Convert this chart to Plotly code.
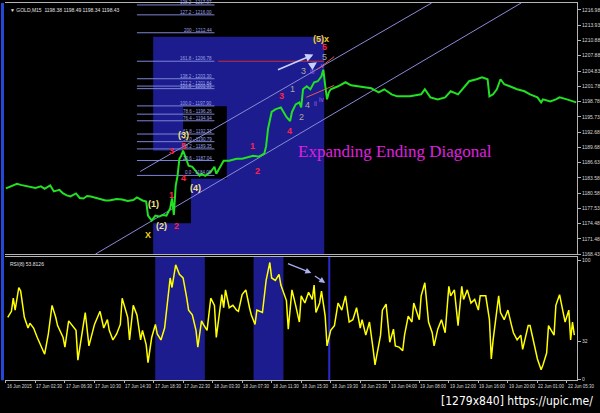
import plotly.graph_objects as go

# ---------------- data ----------------
PRICE_BAR = [0, 3, 6, 8, 11, 13, 16, 19, 21, 24,
             26, 29, 31, 33, 35, 38, 40, 42, 44, 46,
             49, 51, 54, 56, 60, 63, 66, 69, 71, 74,
             76, 77, 79, 81, 83, 85, 87, 89, 90, 91,
             92, 93, 94, 95, 96, 97, 99, 101, 103, 105,
             106, 108, 111, 113, 114, 117, 118, 121, 125, 128,
             132, 134, 137, 140, 141, 142, 144, 146, 149, 150,
             152, 154, 155, 157, 159, 160, 161, 163, 165, 167,
             169, 171, 172, 173, 174, 175, 176, 180, 184, 187,
             191, 195, 198, 202, 205, 209, 212, 216, 219, 225,
             227, 230, 234, 238, 241, 245, 248, 251, 255, 258,
             261, 262, 264, 266, 268, 270, 273, 277, 281, 284,
             288, 290, 291, 295, 298, 300, 304, 307, 309]
PRICE = [1181.5, 1181.9, 1182.4, 1182.2, 1182.0, 1181.8, 1181.6, 1181.9, 1181.4, 1182.1,
         1180.9, 1181.2, 1180.5, 1180.1, 1179.9, 1180.5, 1179.6, 1179.5, 1180.0, 1179.9,
         1179.6, 1179.5, 1179.1, 1179.1, 1179.4, 1179.3, 1179.0, 1179.2, 1179.7, 1179.1,
         1178.9, 1176.1, 1175.1, 1176.1, 1175.9, 1176.2, 1176.1, 1177.5, 1179.5, 1176.2,
         1182.0, 1184.0, 1187.4, 1188.0, 1189.0, 1188.0, 1186.0, 1185.8, 1184.8, 1184.0,
         1184.4, 1184.0, 1184.8, 1185.8, 1184.4, 1186.4, 1187.0, 1187.0, 1187.4, 1187.4,
         1187.8, 1188.0, 1187.8, 1188.4, 1189.9, 1193.3, 1196.7, 1197.2, 1197.6, 1196.9,
         1195.7, 1194.9, 1196.7, 1198.2, 1198.6, 1197.6, 1201.2, 1201.8, 1201.2, 1202.6,
         1202.8, 1203.8, 1205.1, 1202.0, 1199.2, 1200.6, 1201.2, 1201.8, 1202.6, 1202.0,
         1201.8, 1201.6, 1201.4, 1200.6, 1201.2, 1200.2, 1199.8, 1199.8, 1199.8, 1200.2,
         1201.2, 1199.6, 1199.2, 1199.6, 1200.8, 1200.2, 1201.6, 1202.8, 1203.2, 1203.6,
         1203.2, 1199.8, 1200.2, 1201.2, 1203.2, 1202.2, 1201.8, 1201.2, 1200.8, 1200.2,
         1199.6, 1198.6, 1199.2, 1198.8, 1199.2, 1199.6, 1199.2, 1198.8, 1198.6]

RSI_BAR = [1, 3, 4, 5, 7, 8, 10, 12, 13, 15,
           17, 20, 21, 23, 25, 27, 28, 31, 32, 34,
           36, 38, 39, 41, 43, 45, 47, 48, 51, 53,
           55, 56, 58, 60, 62, 63, 66, 67, 69, 71,
           73, 74, 76, 77, 79, 81, 82, 84, 86, 88,
           89, 90, 92, 94, 96, 98, 99, 101, 103, 104,
           106, 107, 109, 111, 113, 114, 117, 118, 119, 121,
           123, 125, 126, 128, 130, 132, 133, 135, 136, 139,
           141, 143, 144, 146, 148, 149, 152, 153, 155, 157,
           159, 160, 162, 164, 166, 167, 168, 170, 171, 173,
           174, 176, 178, 180, 182, 184, 186, 188, 190, 192,
           193, 195, 197, 199, 200, 203, 204, 206, 208, 210,
           211, 213, 215, 216, 218, 220, 221, 224, 225, 227,
           229, 231, 232, 234, 236, 238, 240, 241, 243, 245,
           247, 248, 250, 252, 254, 256, 257, 260, 262, 263,
           264, 267, 268, 270, 272, 274, 275, 277, 279, 280,
           283, 284, 286, 288, 290, 291, 293, 294, 297, 298,
           300, 301, 303, 305, 306, 307, 308]
RSI = [52, 57, 68, 58, 77, 74, 52, 43, 47, 43,
       35, 24, 21, 38, 62, 52, 45, 35, 27, 49,
       45, 41, 16, 38, 56, 28, 41, 46, 57, 43,
       50, 41, 33, 38, 46, 68, 52, 33, 62, 54,
       33, 41, 29, 14, 35, 46, 38, 33, 43, 71,
       85, 77, 96, 88, 85, 68, 58, 54, 41, 27,
       49, 46, 41, 68, 62, 35, 71, 60, 75, 60,
       62, 58, 57, 71, 75, 60, 54, 46, 58, 56,
       83, 98, 85, 83, 88, 79, 66, 42, 75, 62,
       48, 70, 64, 73, 67, 79, 56, 64, 74, 53,
       28, 41, 45, 64, 58, 70, 48, 50, 60, 43,
       50, 37, 48, 25, 12, 37, 58, 63, 31, 42,
       28, 27, 24, 37, 53, 48, 64, 50, 70, 81,
       48, 39, 28, 42, 50, 39, 78, 70, 75, 45,
       78, 67, 75, 64, 67, 58, 70, 70, 50, 17,
       33, 70, 56, 50, 58, 45, 39, 33, 37, 25,
       45, 45, 31, 17, 8, 12, 22, 45, 37, 62,
       71, 64, 48, 58, 33, 48, 37]

PRICE_TICKS = [1216.98, 1213.93, 1210.88, 1207.88, 1204.83, 1201.78, 1198.78, 1195.73,
               1192.68, 1189.68, 1186.63, 1183.58, 1180.58, 1177.53, 1174.48, 1171.48, 1168.43]
RSI_TICKS = [0, 32, 100]

TIME_BARS = [0, 16, 32, 48, 64, 80, 96, 112, 128, 144, 160, 176, 192, 208, 224, 240, 256, 272, 288, 304]
TIME_LABELS = ["16 Jun 2015", "17 Jun 02:30", "17 Jun 06:30", "17 Jun 10:30", "17 Jun 14:30",
               "17 Jun 18:30", "17 Jun 22:30", "18 Jun 03:30", "18 Jun 07:30", "18 Jun 11:30",
               "18 Jun 15:30", "18 Jun 19:30", "18 Jun 23:30", "19 Jun 04:00", "19 Jun 08:00",
               "19 Jun 12:00", "19 Jun 16:00", "19 Jun 20:00", "22 Jun 01:00", "22 Jun 05:30"]

FIB_RATIO = ["138.2", "127.2", "200", "161.8", "138.2", "127.2", "123.6", "100.0",
             "78.6", "76.4", "61.8", "50.0", "38.2", "23.6", "0.0"]
FIB_PRICE = [1217.97, 1216.00, 1212.44, 1206.78, 1203.30, 1201.84, 1201.33, 1197.90,
             1196.26, 1194.94, 1192.31, 1190.79, 1189.35, 1187.04, 1184.08]
FIB_BAR_RANGE = [71, 113]
FIB_RED_BAR_RANGE = [115, 172.5]

# channel (expanding diagonal boundaries)
LOWER_LINE_BAR = [48.5, 279.2]
LOWER_LINE_PRICE = [1168.43, 1218.36]
UPPER_LINE_BAR = [72.8, 230.7]
UPPER_LINE_PRICE = [1184.87, 1218.36]
SMALL_LINES = [([162.8, 177.9], [1199.61, 1201.98]), ([168.7, 177.9], [1205.14, 1207.70])]

# highlighted zones (bar ranges / price ranges)
ZONE_MAIN = dict(bars=[79.8, 172.5], prices=[1168.43, 1211.65])
ZONE_BLACK = [dict(bars=[79.2, 100.3], prices=[1174.55, 1188.96]),
              dict(bars=[96.0, 119.7], prices=[1183.43, 1197.84])]
RSI_ZONES = [[80.9, 107.8], [134.2, 150.4]]
RSI_VLINE_BAR = 175.2

# wave labels (text, bar, price)
PRIMARY_WAVES = [("(1)", 79.8, 1178.3), ("(2)", 84.1, 1173.96), ("(3)", 96.0, 1192.11),
                 ("(4)", 103.0, 1181.65)]
X_LABELS = [("X", 77.1, 1172.18), ("(5)x", 170.9, 1211.26)]
RED_WAVES = [("1", 89.5, 1180.27), ("2", 92.2, 1173.96), ("3", 90.0, 1188.96), ("4", 96.0, 1183.63),
             ("5", 96.5, 1189.94), ("1", 133.7, 1189.94), ("2", 136.4, 1185.01), ("3", 149.3, 1199.81),
             ("4", 153.6, 1192.90), ("5", 172.5, 1209.68)]
GRAY_WAVES = [("1", 155.3, 1201.19), ("2", 160.1, 1195.67), ("3", 161.2, 1204.74),
              ("4", 163.3, 1198.03), ("5", 172.5, 1207.71)]
SUB_WAVES = [("iii", 166.0, 1204.74), ("ii", 167.7, 1198.43), ("iv", 170.9, 1199.22), ("v", 172.0, 1205.93)]

PRICE_ARROWS = [((146.6, 1204.94), (166.6, 1208.10)), ((164.5, 1205.6), (168.5, 1206.6))]
RSI_ARROWS = [((152.0, 97.5), (165.5, 89.2)), ((166.6, 87.5), (173.0, 80.8))]

TITLE = "\u25BC GOLD,M15  1198.38 1198.49 1198.34 1198.43"
RSI_TITLE = "RSI(8) 53.8126"
PATTERN_NAME = "Expanding Ending Diagonal"
PATTERN_POS = (210.8, 1188.76)
WATERMARK = "[1279x840] https://upic.me/"

# ---------------- figure ----------------
NAVY = "#1c1c8e"
W, H = 600, 413
fig = go.Figure()

fig.add_trace(go.Scatter(x=LOWER_LINE_BAR, y=LOWER_LINE_PRICE, mode="lines",
                         line=dict(color="#8a8ad8", width=1), xaxis="x", yaxis="y", hoverinfo="skip"))
fig.add_trace(go.Scatter(x=UPPER_LINE_BAR, y=UPPER_LINE_PRICE, mode="lines",
                         line=dict(color="#8a8ad8", width=1), xaxis="x", yaxis="y", hoverinfo="skip"))
for bx, py in SMALL_LINES:
    fig.add_trace(go.Scatter(x=bx, y=py, mode="lines", line=dict(color="#e05a5a", width=1),
                             xaxis="x", yaxis="y", hoverinfo="skip"))
fig.add_trace(go.Scatter(x=PRICE_BAR, y=PRICE, mode="lines",
                         line=dict(color="#22e022", width=2), xaxis="x", yaxis="y", hoverinfo="skip"))
fig.add_trace(go.Scatter(x=RSI_BAR, y=RSI, mode="lines",
                         line=dict(color="#ffff00", width=1.5), xaxis="x2", yaxis="y2", hoverinfo="skip"))

shapes = []
shapes.append(dict(type="rect", xref="x", yref="y", x0=ZONE_MAIN["bars"][0], x1=ZONE_MAIN["bars"][1],
                   y0=ZONE_MAIN["prices"][0], y1=ZONE_MAIN["prices"][1], fillcolor=NAVY,
                   line=dict(width=0), layer="below"))
for z in ZONE_BLACK:
    shapes.append(dict(type="rect", xref="x", yref="y", x0=z["bars"][0], x1=z["bars"][1],
                       y0=z["prices"][0], y1=z["prices"][1], fillcolor="black",
                       line=dict(width=0), layer="below"))
for rz in RSI_ZONES:
    shapes.append(dict(type="rect", xref="x2", yref="y2 domain", x0=rz[0], x1=rz[1], y0=0, y1=1,
                       fillcolor=NAVY, line=dict(width=0), layer="below"))
shapes.append(dict(type="line", xref="x2", yref="y2 domain", x0=RSI_VLINE_BAR, x1=RSI_VLINE_BAR,
                   y0=0, y1=1, line=dict(color="#2a2acc", width=2), layer="below"))
for p in FIB_PRICE:
    shapes.append(dict(type="line", xref="x", yref="y", x0=FIB_BAR_RANGE[0], x1=FIB_BAR_RANGE[1],
                       y0=p, y1=p, line=dict(color="#7c84d4", width=1), layer="below"))
red_level = FIB_PRICE[FIB_RATIO.index("161.8")]
shapes.append(dict(type="line", xref="x", yref="y", x0=FIB_RED_BAR_RANGE[0], x1=FIB_RED_BAR_RANGE[1],
                   y0=red_level, y1=red_level, line=dict(color="#c83030", width=1), layer="below"))
# left scroll bar
shapes.append(dict(type="rect", xref="paper", yref="paper", x0=1 / W, x1=4 / W, y0=30 / H, y1=410 / H,
                   fillcolor="#2448d8", line=dict(width=0)))

ann = []
for r, p in zip(FIB_RATIO, FIB_PRICE):
    ann.append(dict(x=FIB_BAR_RANGE[1] - 0.5, y=p, xref="x", yref="y", text=f"{r} - {p:.2f}",
                    showarrow=False, xanchor="right", yanchor="bottom", yshift=-2,
                    font=dict(size=4.5, color="#9ea4e8", family="Liberation Sans")))


def add_labels(items, color, size, bold=True, family="Liberation Sans"):
    for t, b, p in items:
        ann.append(dict(x=b, y=p, xref="x", yref="y", text=f"<b>{t}</b>" if bold else t,
                        showarrow=False, font=dict(size=size, color=color, family=family)))


add_labels(PRIMARY_WAVES, "#efe48a", 9)
add_labels(X_LABELS, "#f2d21a", 9)
add_labels(RED_WAVES, "#ff2246", 9)
add_labels(GRAY_WAVES, "#a8a8a8", 9, bold=False)
add_labels(SUB_WAVES, "#a060e8", 6.5, bold=False)

for (b0, p0), (b1, p1) in PRICE_ARROWS:
    ann.append(dict(x=b1, y=p1, ax=b0, ay=p0, xref="x", yref="y", axref="x", ayref="y", text="",
                    showarrow=True, arrowhead=2, arrowsize=1, arrowwidth=1.6, arrowcolor="#c8d0ff"))
for (b0, r0), (b1, r1) in RSI_ARROWS:
    ann.append(dict(x=b1, y=r1, ax=b0, ay=r0, xref="x2", yref="y2", axref="x2", ayref="y2", text="",
                    showarrow=True, arrowhead=2, arrowsize=1, arrowwidth=1.2, arrowcolor="#a8b0f0"))

ann.append(dict(x=PATTERN_POS[0], y=PATTERN_POS[1], xref="x", yref="y", text=PATTERN_NAME,
                showarrow=False, font=dict(size=17, color="#e020e0", family="Liberation Serif")))

for b, lab in zip(TIME_BARS, TIME_LABELS):
    ann.append(dict(x=b, y=(413 - 385) / H, xref="x2", yref="paper", text=lab, showarrow=False,
                    xanchor="left", yanchor="top", xshift=-1,
                    font=dict(size=4.5, color="#d8d8d8", family="Liberation Sans")))

ann.append(dict(x=8 / W, y=1 - 5 / H, xref="paper", yref="paper", text=TITLE, showarrow=False,
                xanchor="left", yanchor="top", font=dict(size=5, color="#e0e0e0", family="Liberation Sans")))
ann.append(dict(x=8 / W, y=1 - 261 / H, xref="paper", yref="paper", text=RSI_TITLE, showarrow=False,
                xanchor="left", yanchor="top", font=dict(size=5, color="#e0e0e0", family="Liberation Sans")))
ann.append(dict(x=598 / W, y=1 - 404 / H, xref="paper", yref="paper", text=WATERMARK, showarrow=False,
                xanchor="right", yanchor="middle", font=dict(size=12, color="#ffffff", family="DejaVu Sans Condensed")))

XDOM = [5 / W, 580 / W]
axis_common = dict(showgrid=False, zeroline=False)
fig.update_layout(
    width=W, height=H, margin=dict(l=0, r=0, t=0, b=0),
    paper_bgcolor="black", plot_bgcolor="black", showlegend=False,
    xaxis=dict(domain=XDOM, range=[-0.5, 309.5], anchor="y", showline=True, mirror=True,
               linecolor="#b4b4b4", linewidth=1, showticklabels=False, ticks="", **axis_common),
    xaxis2=dict(domain=XDOM, range=[-0.5, 309.5], anchor="y2", matches="x", showline=True, mirror=True,
                linecolor="#b4b4b4", linewidth=1, showticklabels=False, ticks="outside",
                tickvals=TIME_BARS, ticklen=2, tickcolor="#b4b4b4", **axis_common),
    yaxis=dict(domain=[(413 - 256) / H, (413 - 3) / H], range=[1168.43, 1218.36], side="right",
               anchor="x", showline=True, linecolor="#b4b4b4", ticks="outside", ticklen=3,
               tickcolor="#b4b4b4", tickvals=PRICE_TICKS, ticktext=[f"{v:.2f}" for v in PRICE_TICKS],
               tickfont=dict(size=5, color="#d8d8d8", family="Liberation Sans"), **axis_common),
    yaxis2=dict(domain=[(413 - 383) / H, (413 - 259) / H], range=[-0.83, 102.5], side="right",
                anchor="x2", showline=True, linecolor="#b4b4b4", ticks="outside", ticklen=3,
                tickcolor="#b4b4b4", tickvals=RSI_TICKS, ticktext=[str(v) for v in RSI_TICKS],
                tickfont=dict(size=5, color="#d8d8d8", family="Liberation Sans"), **axis_common),
    shapes=shapes, annotations=ann,
)

fig.write_html("out.html", config={"displayModeBar": False},
               post_script="document.body.style.margin='0';document.body.style.background='black';")
